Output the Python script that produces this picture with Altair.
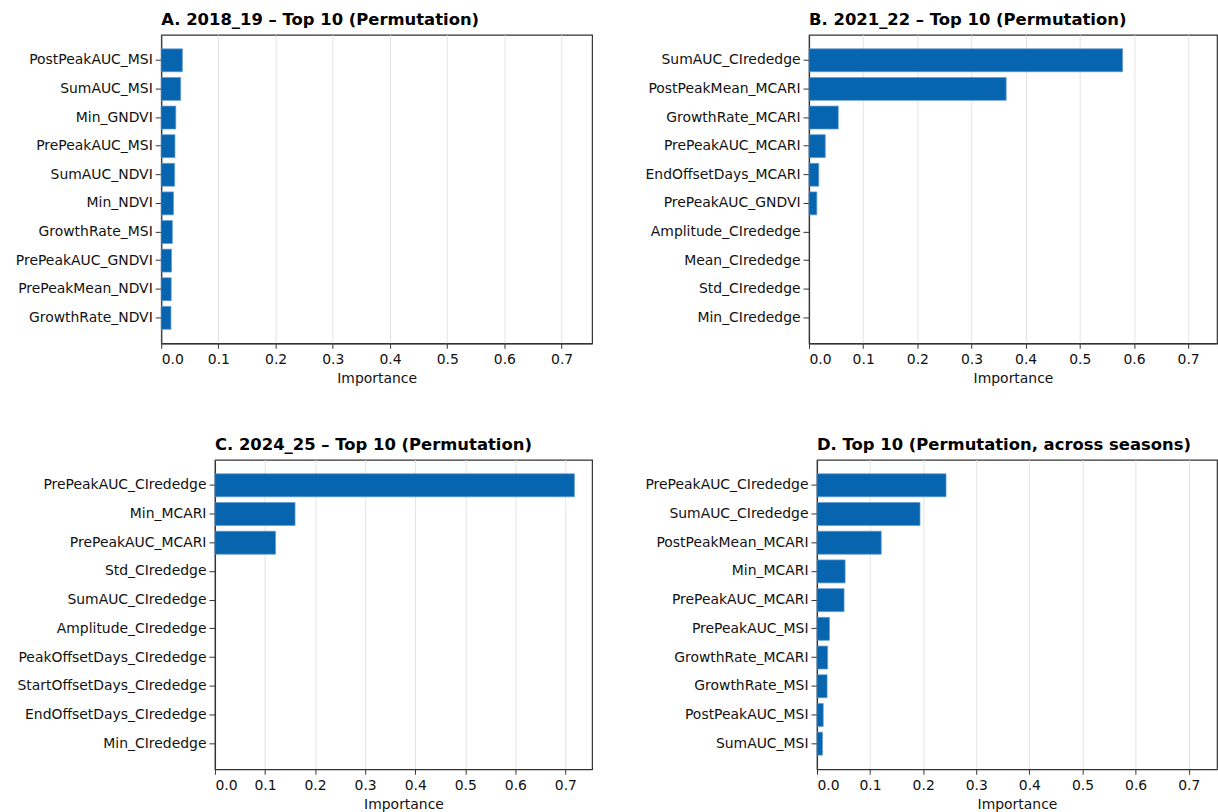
import altair as alt
import pandas as pd

# Permutation importance, top 10 features per season and pooled across seasons
features_a = ["PostPeakAUC_MSI", "SumAUC_MSI", "Min_GNDVI", "PrePeakAUC_MSI", "SumAUC_NDVI",
              "Min_NDVI", "GrowthRate_MSI", "PrePeakAUC_GNDVI", "PrePeakMean_NDVI", "GrowthRate_NDVI"]
values_a = [0.037, 0.034, 0.0255, 0.024, 0.0235, 0.0215, 0.0195, 0.018, 0.0175, 0.017]

features_b = ["SumAUC_CIrededge", "PostPeakMean_MCARI", "GrowthRate_MCARI", "PrePeakAUC_MCARI",
              "EndOffsetDays_MCARI", "PrePeakAUC_GNDVI", "Amplitude_CIrededge", "Mean_CIrededge",
              "Std_CIrededge", "Min_CIrededge"]
values_b = [0.579, 0.364, 0.054, 0.030, 0.018, 0.0144, 0.0, 0.0, 0.0, 0.0]

features_c = ["PrePeakAUC_CIrededge", "Min_MCARI", "PrePeakAUC_MCARI", "Std_CIrededge",
              "SumAUC_CIrededge", "Amplitude_CIrededge", "PeakOffsetDays_CIrededge",
              "StartOffsetDays_CIrededge", "EndOffsetDays_CIrededge", "Min_CIrededge"]
values_c = [0.718, 0.160, 0.121, 0.0, 0.0, 0.0, 0.0, 0.0, 0.0, 0.0]

features_d = ["PrePeakAUC_CIrededge", "SumAUC_CIrededge", "PostPeakMean_MCARI", "Min_MCARI",
              "PrePeakAUC_MCARI", "PrePeakAUC_MSI", "GrowthRate_MCARI", "GrowthRate_MSI",
              "PostPeakAUC_MSI", "SumAUC_MSI"]
values_d = [0.243, 0.194, 0.121, 0.053, 0.051, 0.0235, 0.020, 0.019, 0.0118, 0.0103]

titles = ["A. 2018_19 – Top 10 (Permutation)",
          "B. 2021_22 – Top 10 (Permutation)",
          "C. 2024_25 – Top 10 (Permutation)",
          "D. Top 10 (Permutation, across seasons)"]

x_ticks = [0.0, 0.1, 0.2, 0.3, 0.4, 0.5, 0.6, 0.7]
X_MAX = 0.7533
BAR_COLOR = "#0060ad"
EDGE_COLOR = "#5a95cf"
FONT = "DejaVu Sans"


def panel(features, values, title, width, height, label_extent):
    df = pd.DataFrame({"feature": features, "importance": values})
    return (
        alt.Chart(df, title=alt.TitleParams(title, anchor="start", frame="group", fontSize=16.5,
                                            font=FONT, fontWeight="bold", color="#000000", offset=6))
        .mark_bar(color=BAR_COLOR, opacity=0.97, strokeWidth=0.7)
        .encode(
            x=alt.X("importance:Q",
                    scale=alt.Scale(domain=[0, X_MAX], nice=False, zero=True),
                    axis=alt.Axis(values=x_ticks, format=".1f", title="Importance")),
            y=alt.Y("feature:N", sort=features,
                    scale=alt.Scale(paddingInner=0.2, paddingOuter=0.49),
                    axis=alt.Axis(title=None, minExtent=label_extent, maxExtent=label_extent,
                                  labelLimit=260)),
            # zero-importance features get no visible edge
            stroke=alt.condition(alt.datum.importance > 0, alt.value(EDGE_COLOR), alt.value("transparent")),
        )
        .properties(width=width, height=height)
    )


def spacer():
    # invisible 1px cell that anchors the left edge of each row
    return (
        alt.Chart(pd.DataFrame({"v": [0]}))
        .mark_rect(opacity=0)
        .encode(x=alt.value(0), x2=alt.value(1), y=alt.value(0), y2=alt.value(1))
        .properties(width=1, height=1, view=alt.ViewBackground(stroke="transparent"))
    )


pa = panel(features_a, values_a, titles[0], 433, 310, 158)
pb = panel(features_b, values_b, titles[1], 410, 310, 170)
pc = panel(features_c, values_c, titles[2], 379, 311, 212)
pd_ = panel(features_d, values_d, titles[3], 402, 311, 178)

row_top = alt.hconcat(alt.hconcat(spacer(), pa, spacing=0), pb, spacing=46)
row_bottom = alt.hconcat(alt.hconcat(spacer(), pc, spacing=0), pd_, spacing=46)

chart = (
    alt.vconcat(row_top, row_bottom, spacing=50)
    .properties(padding={"left": 0, "top": 9, "right": 0, "bottom": 0})
    .configure_view(stroke="#333333", strokeWidth=1.2)
    .configure_axis(
        domainColor="#333333", domainWidth=1.2, tickColor="#333333", tickWidth=1,
        labelFont=FONT, labelFontSize=14, labelColor="#111111",
        titleFont=FONT, titleFontSize=14, titleFontWeight="normal", titleColor="#111111",
        gridColor="#e3e3e3", gridWidth=1,
    )
    .configure_axisX(grid=True, tickSize=5, labelPadding=4, titlePadding=5)
    .configure_axisY(grid=False, tickSize=6, labelPadding=3)
)

chart.save("out.html", embed_options={"renderer": "svg", "actions": False})
